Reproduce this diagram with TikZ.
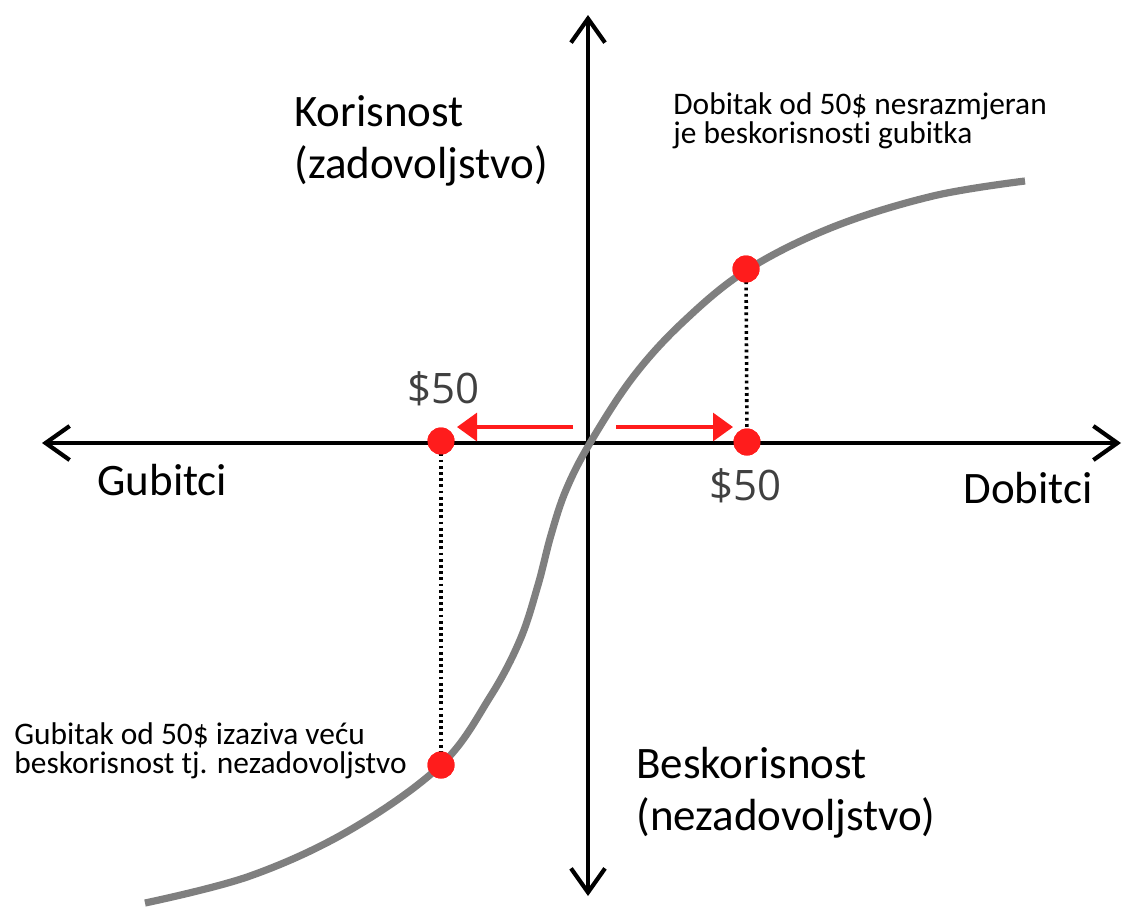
\documentclass[tikz,border=0pt]{standalone}
\usepackage{fontspec}
\setmainfont[Ligatures={NoCommon}]{Carlito}
\newfontfamily\numfont{Open Sans}
\usetikzlibrary{arrows.meta}
\definecolor{curvegray}{RGB}{127,127,127}
\definecolor{dotred}{RGB}{255,28,28}
\definecolor{numgray}{RGB}{64,64,64}
\tikzset{
  axis/.style={line width=2.1pt,-{Straight Barb[length=12pt,width=17pt,line width=2.1pt]}},
  redarrow/.style={dotred,line width=1.6pt,-{Triangle[length=10pt,width=14pt]}},
  guide/.style={line width=1.8pt,dash pattern=on 1.4pt off 1.7pt},
  reddot/.style={circle,fill=dotred,inner sep=0pt,minimum size=13.5pt},
  biglabel/.style={anchor=base west,inner sep=0pt,align=left,font=\fontsize{22.5}{26}\selectfont},
  smalllabel/.style={anchor=base west,inner sep=0pt,align=left,font=\fontsize{15.7}{14.5}\selectfont},
  numlabel/.style={anchor=base west,inner sep=0pt,text=numgray,font=\numfont\fontsize{21}{24}\selectfont}
}
\begin{document}
\begin{tikzpicture}[x=0.5pt,y=-0.5pt]
\useasboundingbox (0,0) rectangle (1123,906);
% axis ends
\coordinate (L) at (42,443);
\coordinate (R) at (1121,443);
\coordinate (T) at (588,15);
\coordinate (B) at (588,896);
\coordinate (O) at (588,443);
% dots
\node[reddot] (dL) at (441,441) {};
\node[reddot] (dR) at (747,442) {};
\node[reddot] (dU) at (746,269) {};
\node[reddot] (dD) at (441,765) {};
% dotted guides
\draw[guide] (dU.center) -- (dR.center);
\draw[guide] (dL.center) -- (dD.center);
% axes
\draw[axis] (O) -- (L);
\draw[axis] (O) -- (R);
\draw[axis] (O) -- (T);
\draw[axis] (O) -- (B);
% curve
\draw[curvegray,line width=3.6pt,line cap=butt] plot[smooth,tension=0.6] coordinates {
 (145,903) (250,876) (350,830) (441,765) (490,697) (520,640) (538,585) (551,535) (566,490) (590,443)
 (633,377) (683,322) (747,270) (833,227) (933,196) (1025,181)};
% redraw dots on top
\node[reddot] at (dL) {};
\node[reddot] at (dR) {};
\node[reddot] at (dU) {};
\node[reddot] at (dD) {};
% red arrows
\coordinate (aLs) at (573,427);
\coordinate (aLe) at (457,427);
\coordinate (aRs) at (616,427);
\coordinate (aRe) at (733,427);
\draw[redarrow] (aLs) -- (aLe);
\draw[redarrow] (aRs) -- (aRe);
% labels (base anchor = last line baseline)
\node[biglabel] (kor) at (294,178) {Korisnost\\(zadovoljstvo)};
\node[biglabel] (besk) at (636,830) {Beskorisnost\\(nezadovoljstvo)};
\node[biglabel] (gub) at (97,495) {Gubitci};
\node[biglabel] (dob) at (963,503) {Dobitci};
\node[smalllabel] (dobt) at (673,143) {Dobitak od 50\$ nesrazmjeran\\je beskorisnosti gubitka};
\node[smalllabel] (gubt) at (14,773) {Gubitak od 50\$ izaziva veću\\beskorisnost tj. nezadovoljstvo};
\node[numlabel] (n1) at (407,403) {\$50};
\node[numlabel] (n2) at (709,500) {\$50};
\end{tikzpicture}
\end{document}
